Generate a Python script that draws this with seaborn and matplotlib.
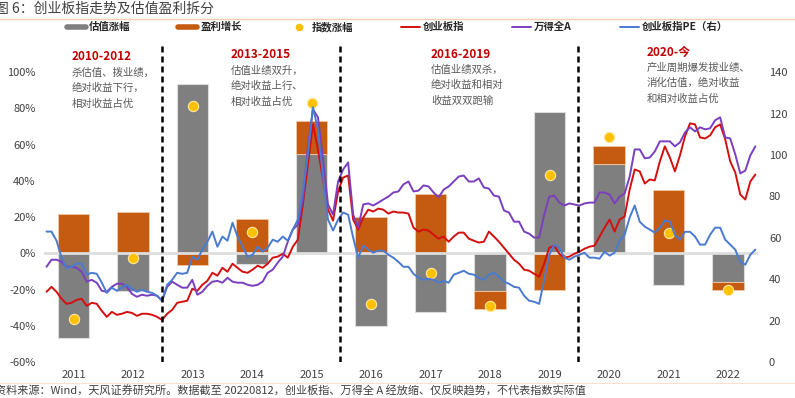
import numpy as np
import pandas as pd
import matplotlib
matplotlib.use("Agg")
import matplotlib.pyplot as plt
import seaborn as sns
from matplotlib.lines import Line2D
from matplotlib.ticker import PercentFormatter

# yearly decomposition (left axis, fraction)
years = [str(y) for y in range(2011, 2023)]
valuation = [-0.47, -0.21, 0.935, -0.06, 0.55, -0.40, -0.325, -0.21, 0.78, 0.495, -0.175, -0.16]
earnings = [0.215, 0.226, -0.065, 0.187, 0.18, 0.20, 0.325, -0.10, -0.20, 0.095, 0.35, -0.045]
index_chg = [-0.36, -0.028, 0.815, 0.12, 0.83, -0.28, -0.11, -0.29, 0.43, 0.64, 0.115, -0.20]

# monthly lines from 2011-01 (right axis units, indices rescaled)
chinext = [33.9, 36.3, 33.9, 30.5, 28.1, 28.6, 30.0, 30.5, 27.1, 28.6, 28.1, 24.7,
           21.8, 24.2, 22.8, 23.3, 24.2, 23.7, 22.3, 23.3, 23.3, 22.8, 21.8, 20.3,
           23.3, 25.2, 28.6, 29.1, 29.6, 35.4, 34.4, 37.3, 39.2, 43.1, 41.7, 45.5,
           43.6, 47.5, 45.5, 43.6, 43.1, 44.6, 46.5, 45.5, 47.5, 50.4, 50.9, 52.3,
           50.4, 55.7, 59.1, 76.1, 95.4, 114.8, 102.7, 88.2, 73.6, 68.3, 82.4, 89.1,
           90.1, 68.8, 64.0, 69.8, 73.6, 72.7, 74.1, 73.6, 71.7, 72.7, 72.2, 72.2,
           71.7, 64.9, 63.0, 64.0, 63.5, 61.5, 59.6, 60.6, 58.1, 60.6, 62.5, 62.5,
           59.6, 58.6, 57.7, 58.1, 63.0, 60.6, 58.1, 55.2, 52.3, 49.4, 47.5, 44.6,
           44.1, 42.6, 41.2, 47.5, 55.2, 56.2, 52.3, 50.4, 50.9, 52.3, 53.3, 54.7,
           55.7, 56.2, 60.6, 64.9, 68.8, 63.0, 68.8, 70.3, 83.3, 93.0, 92.1, 86.2,
           88.2, 87.7, 96.9, 104.2, 98.8, 92.1, 99.8, 109.0, 115.3, 114.8, 108.5, 108.0,
           109.5, 113.4, 114.8, 107.6, 96.9, 91.6, 80.9, 78.5, 87.2, 90.6]
wind_a = [46.0, 49.4, 49.4, 48.4, 46.0, 46.0, 45.5, 43.6, 38.8, 39.7, 38.3, 34.4,
          33.9, 36.3, 37.8, 37.8, 36.3, 32.9, 31.5, 32.5, 32.0, 32.5, 32.0, 29.6,
          36.3, 38.8, 37.3, 35.9, 35.9, 39.7, 32.5, 33.9, 36.8, 38.8, 39.2, 38.3,
          40.7, 38.8, 38.3, 38.3, 37.3, 36.8, 37.3, 38.8, 43.1, 44.6, 48.0, 50.9,
          58.1, 64.0, 66.4, 78.5, 103.7, 122.1, 118.2, 97.9, 76.1, 71.2, 87.2, 93.0,
          96.4, 71.2, 64.9, 76.1, 76.6, 75.6, 77.0, 78.5, 79.9, 81.9, 82.4, 85.8,
          87.2, 82.4, 82.8, 85.3, 84.8, 81.9, 79.5, 83.3, 84.8, 87.2, 89.6, 90.1,
          87.2, 87.2, 88.7, 84.3, 83.8, 80.4, 79.9, 73.2, 72.2, 67.8, 67.8, 63.0,
          62.0, 60.1, 60.1, 71.2, 79.9, 80.4, 77.0, 75.6, 76.6, 76.1, 75.6, 76.6,
          77.0, 77.0, 81.9, 81.9, 80.9, 76.6, 79.9, 81.4, 89.6, 102.7, 102.7, 98.4,
          98.8, 101.7, 106.6, 106.6, 106.6, 104.2, 106.1, 110.9, 113.4, 111.4, 113.4, 112.4,
          112.9, 116.8, 118.2, 108.5, 108.0, 100.3, 91.1, 92.5, 99.8, 104.2]
chinext_pe = [63.0, 63.0, 58.6, 50.4, 45.5, 46.0, 47.5, 47.5, 42.2, 43.1, 42.6, 38.3,
              33.4, 35.9, 34.4, 35.9, 37.3, 35.4, 33.9, 34.9, 33.9, 33.4, 32.0, 29.6,
              37.3, 39.7, 43.1, 42.6, 43.1, 50.9, 49.4, 54.3, 58.1, 63.0, 55.7, 60.6,
              58.6, 67.3, 60.6, 55.7, 50.9, 51.8, 55.7, 53.3, 55.2, 59.1, 58.1, 60.6,
              58.6, 64.0, 68.8, 82.4, 100.3, 123.1, 112.4, 89.6, 68.8, 63.5, 68.8, 72.2,
              71.2, 60.1, 50.4, 56.2, 54.3, 52.8, 53.8, 53.8, 51.8, 50.4, 48.4, 46.0,
              46.0, 42.6, 40.7, 39.7, 40.2, 39.7, 38.3, 39.2, 38.3, 42.2, 43.1, 44.1,
              42.6, 42.2, 40.7, 39.7, 42.2, 43.1, 41.2, 38.8, 37.8, 36.3, 35.9, 32.0,
              29.6, 29.1, 28.1, 39.7, 51.8, 56.7, 55.2, 50.4, 49.4, 50.9, 51.8, 52.8,
              50.4, 50.4, 49.9, 53.3, 51.4, 52.8, 58.6, 61.5, 69.8, 75.6, 67.8, 65.4,
              64.0, 62.5, 64.9, 68.3, 67.8, 61.5, 59.1, 62.9, 62.9, 60.6, 56.7, 56.7,
              61.5, 64.9, 64.9, 59.1, 56.7, 54.3, 48.4, 47.0, 51.8, 54.3]

# lines sit on their own category axis: n equal slots across the 12 years
n_pts = len(chinext)
line_x = -0.5 + len(years) * (np.arange(n_pts) + 0.5) / n_pts

sns.set_theme(style="white")
plt.rcParams["font.family"] = ["Noto Sans CJK SC", "DejaVu Sans"]
plt.rcParams["axes.unicode_minus"] = False

fig = plt.figure(figsize=(7.95, 3.98), dpi=100)
ax = fig.add_axes([0.0553, 0.0905, 0.898, 0.819])

GRAY = "#7f7f7f"
ORANGE = "#c55a11"
GOLD = "#ffc000"
RED = "#d40f0f"
PURPLE = "#7b3fbe"
BLUE = "#4a7bd0"

sns.barplot(x=years, y=valuation, color=GRAY, width=0.53, saturation=1,
            edgecolor="#dcdcdc", linewidth=0.8, ax=ax)
pos = np.arange(len(years))
bottoms = [v if v * e > 0 else 0 for v, e in zip(valuation, earnings)]
ax.bar(pos, earnings, bottom=bottoms, width=0.53, color=ORANGE,
       edgecolor="#f0c8a8", linewidth=0.6)
ax.axhline(0, color="#dedede", lw=2, zorder=3)
ax.scatter(pos, index_chg, s=55, color=GOLD, edgecolor="#ffe9a0", lw=0.8, zorder=4)

ax.set_xlim(-0.5, 11.5)
ax.set_ylim(-0.6, 1.2)
ax.set_yticks(np.arange(-0.6, 1.01, 0.2))
ax.yaxis.set_major_formatter(PercentFormatter(1.0, decimals=0))
ax.set_xlabel("")
ax.tick_params(length=0, labelsize=8, labelcolor="#404040", pad=6)
for lab in ax.get_xticklabels():
    lab.set_color("#404040")

ax2 = ax.twinx()
sns.lineplot(x=line_x, y=chinext, color=RED, lw=1.4, ax=ax2)
sns.lineplot(x=line_x, y=wind_a, color=PURPLE, lw=1.4, ax=ax2)
sns.lineplot(x=line_x, y=chinext_pe, color=BLUE, lw=1.4, ax=ax2)
for b in [1.48, 4.48, 8.48]:
    ax2.axvline(b, ymin=0, ymax=0.97, color="black", lw=1.8, ls=(0, (2.4, 1.6)))
ax2.set_ylim(0, 157.5)
ax2.set_yticks(np.arange(0, 141, 20))
ax2.tick_params(length=0, labelsize=8, labelcolor="#404040", pad=8)
ax2.set_xlim(-0.5, 11.5)

for a in (ax, ax2):
    for s in a.spines.values():
        s.set_visible(False)

# legend
handles = [
    Line2D([], [], color=GRAY, lw=4),
    Line2D([], [], color=ORANGE, lw=4),
    Line2D([], [], color=GOLD, marker="o", ls="", markersize=4.5),
    Line2D([], [], color=RED, lw=1.4),
    Line2D([], [], color=PURPLE, lw=1.4),
    Line2D([], [], color=BLUE, lw=1.4),
]
labels = ["估值涨幅", "盈利增长", "指数涨幅", "创业板指", "万得全A", "创业板指PE（右）"]
fig.legend(handles, labels, loc="center", bbox_to_anchor=(0.5, 1 - 27 / 398), ncol=6,
           frameon=False, handlelength=1.8, handletextpad=0.3,
           columnspacing=4.6, prop={"weight": "bold", "size": 7.5})

# period notes
notes = [
    (72, 57, "2010-2012", ["杀估值、拨业绩，", "绝对收益下行，", "相对收益占优"]),
    (231, 55, "2013-2015", ["估值业绩双升，", "绝对收益上行、", "相对收益占优"]),
    (431, 54, "2016-2019", ["估值业绩双杀，", "绝对收益和相对", "收益双双跑输"]),
    (647, 52, "2020-今", ["产业周期爆发拔业绩、", "消化估值，绝对收益", "和相对收益占优"]),
]
for x, y, head, lines in notes:
    fig.text(x / 795, 1 - y / 398, head, color="#c00000", fontsize=8.5,
             fontweight="bold", va="center", ha="left")
    for k, t in enumerate(lines):
        fig.text(x / 795, 1 - (y + 15.5 * (k + 1)) / 398, t, color="#595959",
                 fontsize=7.5, va="center", ha="left")

# title, rules and source
fig.text(-0.006, 1 - 9 / 398, "图 6：创业板指走势及估值盈利拆分", fontsize=10,
         color="#404040", va="center", ha="left")
fig.add_artist(Line2D([0, 1], [1 - 19 / 398] * 2, color="#f8cbad", lw=1))
fig.add_artist(Line2D([0, 1], [1 - 383 / 398] * 2, color="#fbe0cf", lw=0.8))
fig.text(-0.006, 1 - 391 / 398,
         "资料来源：Wind，天风证券研究所。数据截至 20220812，创业板指、万得全 A 经放缩、仅反映趋势，不代表指数实际值",
         fontsize=8, color="#404040", va="center", ha="left")

fig.savefig("out.png", dpi=100)
